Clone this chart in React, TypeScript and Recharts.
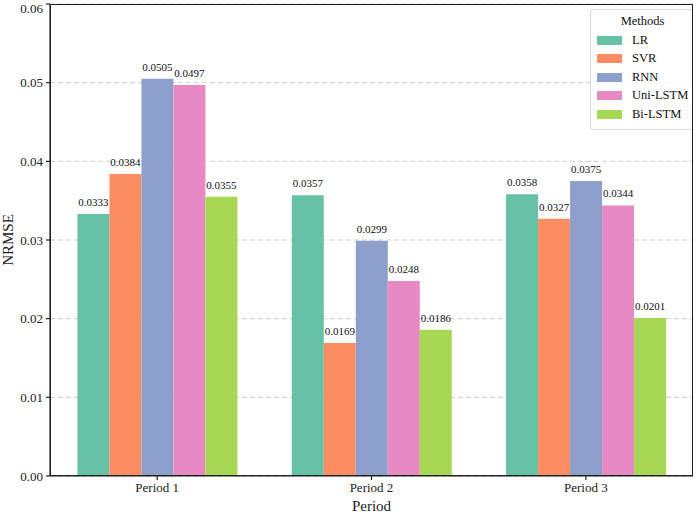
import {
  BarChart,
  Bar,
  XAxis,
  YAxis,
  CartesianGrid,
  Legend,
  LabelList,
} from 'recharts';

const periods = ['Period 1', 'Period 2', 'Period 3'];
const lr = [0.0333, 0.0357, 0.0358];
const svr = [0.0384, 0.0169, 0.0327];
const rnn = [0.0505, 0.0299, 0.0375];
const uniLstm = [0.0497, 0.0248, 0.0344];
const biLstm = [0.0355, 0.0186, 0.0201];
const yTicks = [0, 0.01, 0.02, 0.03, 0.04, 0.05, 0.06];

const methods = [
  { key: 'LR', values: lr, color: '#66c2a5' },
  { key: 'SVR', values: svr, color: '#fc8d62' },
  { key: 'RNN', values: rnn, color: '#8da0cb' },
  { key: 'Uni-LSTM', values: uniLstm, color: '#e78ac3' },
  { key: 'Bi-LSTM', values: biLstm, color: '#a6d854' },
];

const data = periods.map((period, i) => {
  const row: Record<string, string | number> = { period };
  methods.forEach((m) => {
    row[m.key] = m.values[i];
  });
  return row;
});

const FONT = '"Liberation Serif", "Times New Roman", serif';
const AXIS = { stroke: '#222', strokeWidth: 1.2 };

const MethodsLegend = () => (
  <div
    style={{
      fontFamily: FONT,
      background: 'rgba(255,255,255,0.85)',
      border: '1px solid #d9d9d9',
      borderRadius: 3,
      padding: '4px 4px 5px 6px',
      color: '#111',
      whiteSpace: 'nowrap',
      width: 103,
      boxSizing: 'border-box',
    }}
  >
    <div style={{ textAlign: 'center', fontSize: 12.5, marginBottom: 2 }}>Methods</div>
    {methods.map((m) => (
      <div key={m.key} style={{ display: 'flex', alignItems: 'center', height: 18.5 }}>
        <span style={{ width: 25, height: 9, background: m.color, display: 'inline-block', marginRight: 10, flexShrink: 0 }} />
        <span style={{ fontSize: 12.5 }}>{m.key}</span>
      </div>
    ))}
  </div>
);

const App = () => {
  return (
    <div style={{ position: 'absolute', left: 0, top: 0, background: '#fff', fontFamily: FONT }}>
      <BarChart
        width={700}
        height={513}
        data={data}
        margin={{ top: 4, right: 7, bottom: 0, left: 0 }}
        barCategoryGap="12.8%"
        barGap={0}
      >
        <CartesianGrid vertical={false} strokeDasharray="5 3" stroke="#cfcfcf" />
        <XAxis
          dataKey="period"
          height={37}
          axisLine={AXIS}
          tickLine={AXIS}
          tick={{ fontSize: 13, fill: '#222', fontFamily: FONT }}
          tickSize={4}
          tickMargin={3}
          label={{ value: 'Period', position: 'insideBottom', offset: 2, fontSize: 15, fill: '#222', fontFamily: FONT }}
        />
        <YAxis
          width={50}
          domain={[0, 0.06]}
          ticks={yTicks}
          axisLine={AXIS}
          tickLine={AXIS}
          tickSize={4}
          tickMargin={3}
          tick={{ fontSize: 13, fill: '#222', fontFamily: FONT }}
          tickFormatter={(v: number) => v.toFixed(2)}
          label={{
            value: 'NRMSE',
            angle: -90,
            position: 'insideLeft',
            offset: 8,
            fontSize: 15,
            fill: '#222',
            fontFamily: FONT,
            style: { textAnchor: 'middle' },
          }}
        />
        <Legend
          layout="vertical"
          align="center"
          verticalAlign="middle"
          wrapperStyle={{ position: 'absolute', top: 9, left: 590, width: 103 }}
          content={() => <MethodsLegend />}
        />
        {methods.map((m) => (
          <Bar key={m.key} dataKey={m.key} fill={m.color} isAnimationActive={false}>
            <LabelList
              dataKey={m.key}
              position="top"
              offset={8}
              fontSize={11}
              fill="#111"
              fontFamily={FONT}
              formatter={(v: number) => v.toFixed(4)}
            />
          </Bar>
        ))}
      </BarChart>
      {/* frame around the plot area (matplotlib spines) */}
      <div
        style={{
          position: 'absolute',
          left: 50,
          top: 4,
          width: 643,
          height: 472,
          border: '1.2px solid #222',
          boxSizing: 'border-box',
          pointerEvents: 'none',
        }}
      />
    </div>
  );
};

export default App;
